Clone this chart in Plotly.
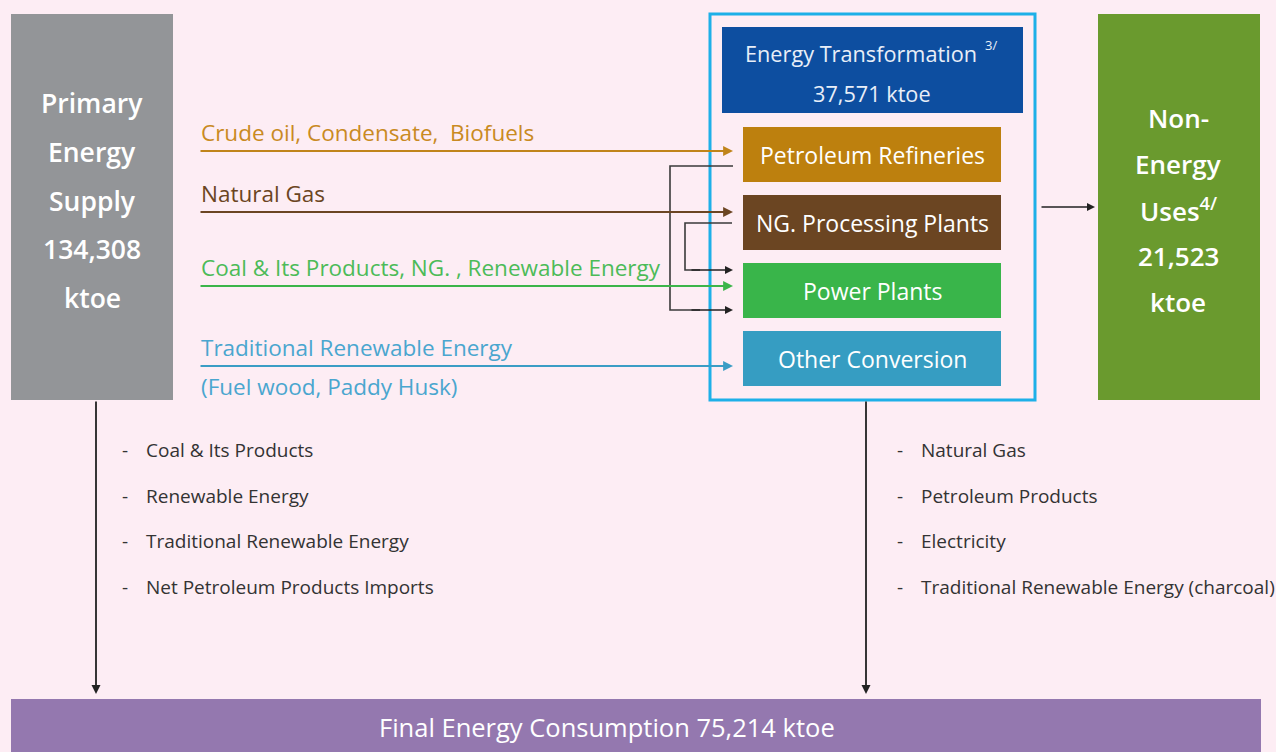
import plotly.graph_objects as go

# ---- data ----
primary_supply_ktoe = 134308
transformation_ktoe = 37571
non_energy_ktoe = 21523
final_consumption_ktoe = 75214

plant_labels = ["Petroleum Refineries", "NG. Processing Plants", "Power Plants", "Other Conversion"]
plant_colors = ["#BD800E", "#6B4522", "#39B54A", "#369DC2"]

flow_labels = ["Crude oil, Condensate,  Biofuels", "Natural Gas",
               "Coal & Its Products, NG. , Renewable Energy", "Traditional Renewable Energy"]
flow_line_colors = ["#C0841A", "#6B4522", "#3CB54A", "#3A9DC5"]
flow_text_colors = ["#C98A22", "#6B4522", "#4CBB58", "#4AA6CF"]
flow_sub_label = "(Fuel wood, Paddy Husk)"

left_list = ["Coal & Its Products", "Renewable Energy", "Traditional Renewable Energy",
             "Net Petroleum Products Imports"]
right_list = ["Natural Gas", "Petroleum Products", "Electricity",
              "Traditional Renewable Energy (charcoal)"]

BG = "#FDEDF4"
FONT = "Open Sans"

fig = go.Figure()
shapes = []
ann = []

def rect(x0, y0, x1, y1, fill, line_color=None, lw=0):
    shapes.append(dict(type="rect", xref="x", yref="y", x0=x0, y0=y0, x1=x1, y1=y1,
                       fillcolor=fill, line=dict(color=line_color or fill, width=lw), layer="below"))

def text(x, y, s, size, color, xanchor="center", weight=None):
    f = dict(family=FONT, size=size, color=color)
    if weight:
        f["weight"] = weight
    ann.append(dict(x=x, y=y, xref="x", yref="y", text=s, showarrow=False,
                    xanchor=xanchor, yanchor="middle", font=f))

def arrow(x0, y0, x1, y1, color, width=1.6, head=1.0):
    ann.append(dict(x=x1, y=y1, ax=x0, ay=y0, xref="x", yref="y", axref="x", ayref="y",
                    text="", showarrow=True, arrowhead=2, arrowsize=head, arrowwidth=width,
                    arrowcolor=color, standoff=0, startstandoff=0))

# Primary energy supply box
rect(11, 14, 173, 400, "#939598")
prim_lines = ["Primary", "Energy", "Supply", f"{primary_supply_ktoe:,}", "ktoe"]
for i, s in enumerate(prim_lines):
    text(92, 103 + i * 48.8, s, 26.5, "white", weight=600)

# Transformation container
shapes.append(dict(type="rect", xref="x", yref="y", x0=710, y0=14, x1=1035, y1=400,
                   fillcolor="rgba(0,0,0,0)", line=dict(color="#1DB0E8", width=3)))
rect(722, 27, 1023, 113, "#0D4EA0")
text(861, 53, "Energy Transformation", 21.7, "#E8EEF8")
text(991, 45, "3/", 13, "#E8EEF8")
text(872, 93, f"{transformation_ktoe:,} ktoe", 21.7, "#E8EEF8")

plant_y = [127, 195, 263, 331]
for lab, col, y0 in zip(plant_labels, plant_colors, plant_y):
    rect(743, y0, 1001, y0 + 55, col)
    text(872, y0 + 27.5, lab, 23, "white", weight=500)

# Non-energy box
rect(1098, 14, 1260, 400, "#6A9A2E")
ne_lines = ["Non-", "Energy", "Uses<sup>4/</sup>", f"{non_energy_ktoe:,}", "ktoe"]
for i, s in enumerate(ne_lines):
    text(1178, 118 + i * 46, s, 26, "white", weight=600)
arrow(1040, 207, 1095, 207, "#222222", width=1.6)

# Final consumption
rect(11, 699, 1261, 752, "#9478AF")
text(607, 727, f"Final Energy Consumption {final_consumption_ktoe:,} ktoe", 25.5, "white", weight=500)

# Flow lines with labels
flow_y = [151, 212, 286, 366]
for lab, lc, tc, y in zip(flow_labels, flow_line_colors, flow_text_colors, flow_y):
    arrow(199, y, 733, y, lc, width=2.2, head=0.9)
    text(199, y - 19, lab, 22.5, tc, xanchor="left")
text(199, 386, flow_sub_label, 22.5, flow_text_colors[3], xanchor="left")

# Connector lines (refinery -> power, NG processing -> power)
shapes.append(dict(type="path", xref="x", yref="y", path="M 733 166 L 670 166 L 670 310 L 700 310",
                   line=dict(color="#3A3A3A", width=1.6)))
arrow(690, 310, 733, 310, "#222222", width=1.6)
shapes.append(dict(type="path", xref="x", yref="y", path="M 732 223 L 685 223 L 685 270 L 700 270",
                   line=dict(color="#3A3A3A", width=1.6)))
arrow(690, 270, 733, 270, "#222222", width=1.6)

# Vertical arrows to final consumption
arrow(96, 400, 96, 694, "#222222", width=1.8)
arrow(866, 400, 866, 694, "#222222", width=1.8)

# Bullet lists
list_y = [450, 496, 541, 587]
for s, y in zip(left_list, list_y):
    text(120, y, "-", 19, "#333333", xanchor="left")
    text(144, y, s, 19, "#333333", xanchor="left")
for s, y in zip(right_list, list_y):
    text(895, y, "-", 19, "#333333", xanchor="left")
    text(919, y, s, 19, "#333333", xanchor="left")

fig.update_layout(
    width=1276, height=752, margin=dict(l=0, r=0, t=0, b=0),
    paper_bgcolor=BG, plot_bgcolor=BG,
    xaxis=dict(range=[0, 1276], visible=False, fixedrange=True),
    yaxis=dict(range=[752, 0], visible=False, fixedrange=True),
    shapes=shapes, annotations=ann, showlegend=False,
)
fig.write_html("out.html", config={"displayModeBar": False},
               post_script="document.body.style.margin='0';document.body.style.overflow='hidden';")
